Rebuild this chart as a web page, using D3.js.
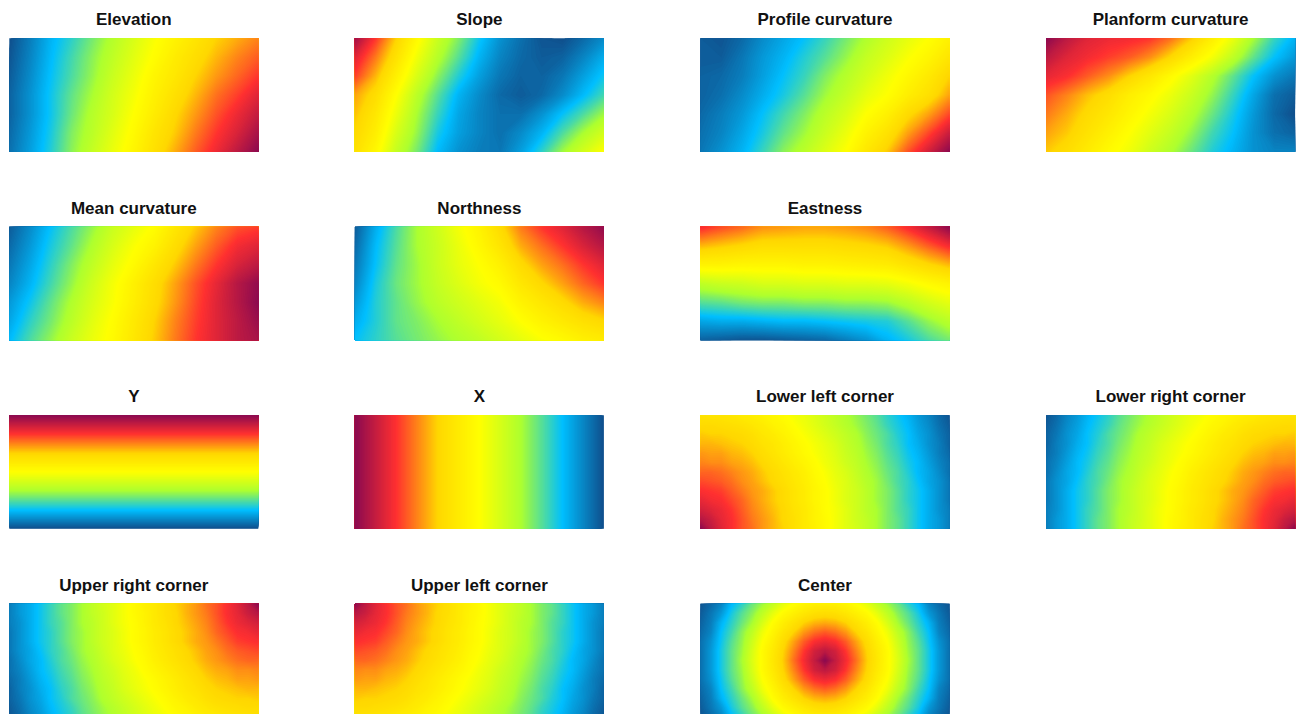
<!DOCTYPE html>
<html>
<head>
<meta charset="utf-8">
<script src="https://cdn.jsdelivr.net/npm/d3@7"></script>
<style>
  html, body { margin: 0; padding: 0; background: #ffffff; }
  svg { display: block; }
</style>
</head>
<body>
<svg id="chart" width="1300" height="714"></svg>
<script>
// ---- Gridded covariate surfaces (rows top→bottom, columns left→right, scaled 0–1) ----

const elevation = [
  [0.00,0.07,0.15,0.21,0.28,0.35,0.42,0.49,0.55,0.61,0.67,0.71,0.75],
  [0.01,0.08,0.16,0.23,0.30,0.37,0.44,0.51,0.58,0.64,0.70,0.75,0.79],
  [0.02,0.09,0.17,0.24,0.31,0.39,0.46,0.54,0.60,0.67,0.73,0.78,0.83],
  [0.03,0.10,0.18,0.26,0.33,0.41,0.48,0.56,0.63,0.70,0.77,0.82,0.88],
  [0.03,0.10,0.18,0.27,0.35,0.42,0.50,0.58,0.66,0.73,0.80,0.86,0.92],
  [0.04,0.11,0.19,0.29,0.36,0.44,0.52,0.61,0.68,0.76,0.83,0.89,0.96],
  [0.05,0.12,0.20,0.30,0.38,0.46,0.54,0.63,0.71,0.79,0.86,0.93,1.00]
];

const slope = [
  [0.97,0.83,0.67,0.52,0.39,0.29,0.18,0.10,0.05,0.01,0.00,0.04,0.09],
  [0.88,0.76,0.62,0.47,0.35,0.25,0.15,0.08,0.04,0.02,0.03,0.08,0.14],
  [0.82,0.70,0.56,0.42,0.30,0.20,0.12,0.06,0.03,0.03,0.06,0.12,0.18],
  [0.72,0.64,0.50,0.36,0.25,0.15,0.09,0.04,0.02,0.04,0.09,0.16,0.23],
  [0.69,0.60,0.46,0.33,0.22,0.13,0.08,0.05,0.05,0.10,0.17,0.24,0.32],
  [0.66,0.57,0.42,0.31,0.19,0.12,0.08,0.05,0.09,0.15,0.24,0.33,0.41],
  [0.63,0.53,0.38,0.28,0.16,0.10,0.07,0.06,0.12,0.21,0.32,0.41,0.50]
];

const profileCurvature = [
  [0.02,0.01,0.04,0.09,0.13,0.17,0.22,0.28,0.34,0.40,0.45,0.50,0.56],
  [0.02,0.02,0.06,0.11,0.15,0.20,0.25,0.31,0.38,0.43,0.49,0.54,0.61],
  [0.03,0.04,0.07,0.12,0.17,0.22,0.29,0.35,0.41,0.47,0.53,0.59,0.67],
  [0.03,0.05,0.09,0.14,0.19,0.25,0.32,0.38,0.45,0.50,0.57,0.63,0.72],
  [0.04,0.07,0.11,0.17,0.23,0.29,0.36,0.42,0.50,0.56,0.65,0.72,0.81],
  [0.05,0.08,0.13,0.19,0.26,0.32,0.39,0.46,0.55,0.62,0.72,0.81,0.91],
  [0.06,0.10,0.15,0.22,0.30,0.36,0.43,0.50,0.60,0.68,0.80,0.90,1.00]
];

const planformCurvature = [
  [1.00,0.93,0.88,0.86,0.85,0.83,0.77,0.68,0.57,0.46,0.33,0.22,0.15],
  [0.93,0.88,0.85,0.82,0.79,0.74,0.66,0.57,0.48,0.37,0.26,0.17,0.11],
  [0.87,0.84,0.79,0.74,0.67,0.60,0.52,0.44,0.35,0.26,0.17,0.10,0.06],
  [0.80,0.75,0.69,0.64,0.57,0.52,0.46,0.39,0.31,0.22,0.13,0.05,0.02],
  [0.76,0.71,0.65,0.60,0.54,0.48,0.42,0.35,0.27,0.19,0.11,0.04,0.00],
  [0.72,0.68,0.62,0.56,0.50,0.44,0.38,0.31,0.23,0.17,0.10,0.05,0.03],
  [0.68,0.64,0.58,0.52,0.47,0.40,0.34,0.27,0.20,0.15,0.10,0.08,0.08]
];

const meanCurvature = [
  [0.02,0.09,0.17,0.24,0.31,0.39,0.45,0.51,0.60,0.68,0.75,0.80,0.82],
  [0.04,0.11,0.19,0.26,0.34,0.42,0.49,0.55,0.64,0.72,0.79,0.85,0.88],
  [0.06,0.13,0.21,0.29,0.37,0.45,0.52,0.60,0.68,0.76,0.83,0.89,0.93],
  [0.08,0.15,0.23,0.31,0.40,0.48,0.56,0.64,0.72,0.80,0.87,0.94,0.99],
  [0.11,0.18,0.26,0.34,0.42,0.49,0.57,0.65,0.73,0.81,0.88,0.94,1.00],
  [0.13,0.21,0.28,0.36,0.44,0.51,0.59,0.67,0.75,0.82,0.88,0.93,0.98],
  [0.16,0.24,0.31,0.39,0.46,0.52,0.60,0.68,0.76,0.83,0.88,0.93,0.96]
];

const northness = [
  [0.02,0.14,0.24,0.33,0.40,0.48,0.55,0.65,0.76,0.83,0.88,0.94,0.99],
  [0.04,0.16,0.25,0.33,0.39,0.46,0.53,0.61,0.71,0.77,0.83,0.89,0.94],
  [0.06,0.17,0.26,0.32,0.39,0.45,0.50,0.56,0.65,0.72,0.77,0.83,0.88],
  [0.08,0.19,0.27,0.32,0.38,0.43,0.48,0.52,0.60,0.66,0.72,0.78,0.83],
  [0.11,0.20,0.26,0.31,0.36,0.40,0.44,0.48,0.55,0.60,0.65,0.71,0.75],
  [0.14,0.20,0.26,0.29,0.33,0.37,0.41,0.45,0.50,0.55,0.59,0.63,0.66],
  [0.17,0.21,0.25,0.28,0.31,0.34,0.37,0.41,0.45,0.49,0.52,0.56,0.58]
];

const eastness = [
  [0.85,0.81,0.78,0.74,0.73,0.72,0.72,0.73,0.75,0.79,0.85,0.92,1.00],
  [0.70,0.68,0.66,0.64,0.64,0.64,0.64,0.65,0.66,0.68,0.73,0.79,0.85],
  [0.55,0.55,0.54,0.54,0.54,0.55,0.55,0.56,0.57,0.58,0.62,0.66,0.70],
  [0.37,0.39,0.40,0.42,0.42,0.43,0.43,0.44,0.44,0.45,0.48,0.52,0.55],
  [0.25,0.26,0.28,0.29,0.29,0.30,0.30,0.31,0.31,0.32,0.36,0.41,0.45],
  [0.13,0.14,0.14,0.15,0.16,0.16,0.17,0.18,0.19,0.20,0.25,0.31,0.36],
  [0.03,0.02,0.01,0.01,0.02,0.03,0.04,0.07,0.10,0.15,0.19,0.24,0.28]
];

// Y varies only down the rows, X only across the columns
const yByRow = [1.00,0.83,0.67,0.50,0.33,0.17,0.00];
const xByColumn = [1.00,0.917,0.833,0.75,0.667,0.583,0.50,0.417,0.333,0.25,0.167,0.083,0.00];

const lowerLeftCorner = [
  [0.62,0.61,0.61,0.60,0.58,0.57,0.55,0.53,0.51,0.48,0.46,0.43,0.40,0.37,0.34,0.31,0.28,0.25,0.21,0.18,0.15,0.11,0.08,0.04,0.01],
  [0.65,0.65,0.64,0.63,0.62,0.60,0.58,0.55,0.53,0.50,0.47,0.44,0.41,0.38,0.35,0.32,0.29,0.26,0.22,0.19,0.16,0.12,0.09,0.05,0.02],
  [0.68,0.67,0.67,0.66,0.65,0.63,0.60,0.58,0.55,0.52,0.49,0.46,0.43,0.40,0.37,0.34,0.30,0.27,0.24,0.20,0.17,0.13,0.10,0.06,0.03],
  [0.70,0.70,0.69,0.68,0.67,0.65,0.62,0.60,0.57,0.54,0.51,0.48,0.45,0.42,0.38,0.35,0.31,0.28,0.24,0.21,0.17,0.14,0.10,0.07,0.03],
  [0.73,0.72,0.72,0.70,0.69,0.67,0.64,0.61,0.58,0.55,0.52,0.49,0.46,0.43,0.39,0.36,0.32,0.29,0.25,0.22,0.18,0.15,0.11,0.07,0.04],
  [0.75,0.74,0.74,0.72,0.71,0.69,0.66,0.63,0.60,0.57,0.54,0.51,0.47,0.44,0.40,0.37,0.33,0.30,0.26,0.23,0.19,0.16,0.12,0.08,0.05],
  [0.78,0.78,0.77,0.75,0.73,0.71,0.68,0.65,0.62,0.59,0.56,0.52,0.49,0.45,0.42,0.38,0.34,0.31,0.27,0.24,0.20,0.16,0.13,0.09,0.05],
  [0.81,0.80,0.79,0.77,0.74,0.72,0.69,0.66,0.63,0.60,0.57,0.53,0.50,0.46,0.43,0.39,0.35,0.32,0.28,0.24,0.21,0.17,0.13,0.10,0.06],
  [0.84,0.83,0.82,0.79,0.76,0.73,0.71,0.68,0.65,0.61,0.58,0.54,0.51,0.47,0.43,0.40,0.36,0.32,0.29,0.25,0.21,0.18,0.14,0.10,0.06],
  [0.87,0.85,0.84,0.81,0.78,0.74,0.71,0.68,0.65,0.61,0.58,0.54,0.51,0.47,0.43,0.40,0.36,0.32,0.29,0.25,0.21,0.18,0.14,0.10,0.06],
  [0.90,0.88,0.86,0.83,0.79,0.75,0.72,0.69,0.66,0.62,0.59,0.55,0.51,0.48,0.44,0.40,0.36,0.33,0.29,0.25,0.22,0.18,0.14,0.10,0.07],
  [0.94,0.91,0.87,0.84,0.80,0.76,0.73,0.70,0.66,0.63,0.59,0.55,0.52,0.48,0.44,0.40,0.37,0.33,0.29,0.26,0.22,0.18,0.14,0.11,0.07],
  [1.00,0.93,0.88,0.84,0.80,0.77,0.73,0.70,0.67,0.63,0.59,0.56,0.52,0.48,0.44,0.41,0.37,0.33,0.29,0.26,0.22,0.18,0.14,0.11,0.07]
];

const lowerRightCorner = [
  [0.01,0.04,0.08,0.11,0.15,0.18,0.21,0.25,0.28,0.31,0.34,0.37,0.40,0.43,0.46,0.48,0.51,0.53,0.55,0.57,0.58,0.60,0.61,0.61,0.62],
  [0.02,0.05,0.09,0.12,0.16,0.19,0.22,0.26,0.29,0.32,0.35,0.38,0.41,0.44,0.47,0.50,0.53,0.55,0.58,0.60,0.62,0.63,0.64,0.65,0.65],
  [0.03,0.06,0.10,0.13,0.17,0.20,0.24,0.27,0.30,0.34,0.37,0.40,0.43,0.46,0.49,0.52,0.55,0.58,0.60,0.63,0.65,0.66,0.67,0.67,0.68],
  [0.03,0.07,0.10,0.14,0.17,0.21,0.24,0.28,0.31,0.35,0.38,0.42,0.45,0.48,0.51,0.54,0.57,0.60,0.62,0.65,0.67,0.68,0.69,0.70,0.70],
  [0.04,0.07,0.11,0.15,0.18,0.22,0.25,0.29,0.32,0.36,0.39,0.43,0.46,0.49,0.52,0.55,0.58,0.61,0.64,0.67,0.69,0.70,0.72,0.72,0.73],
  [0.05,0.08,0.12,0.16,0.19,0.23,0.26,0.30,0.33,0.37,0.40,0.44,0.47,0.51,0.54,0.57,0.60,0.63,0.66,0.69,0.71,0.72,0.74,0.74,0.75],
  [0.05,0.09,0.13,0.16,0.20,0.24,0.27,0.31,0.34,0.38,0.42,0.45,0.49,0.52,0.56,0.59,0.62,0.65,0.68,0.71,0.73,0.75,0.77,0.78,0.78],
  [0.06,0.10,0.13,0.17,0.21,0.24,0.28,0.32,0.35,0.39,0.43,0.46,0.50,0.53,0.57,0.60,0.63,0.66,0.69,0.72,0.74,0.77,0.79,0.80,0.81],
  [0.06,0.10,0.14,0.18,0.21,0.25,0.29,0.32,0.36,0.40,0.43,0.47,0.51,0.54,0.58,0.61,0.65,0.68,0.71,0.73,0.76,0.79,0.82,0.83,0.84],
  [0.06,0.10,0.14,0.18,0.21,0.25,0.29,0.32,0.36,0.40,0.43,0.47,0.51,0.54,0.58,0.61,0.65,0.68,0.71,0.74,0.78,0.81,0.84,0.85,0.87],
  [0.07,0.10,0.14,0.18,0.22,0.25,0.29,0.33,0.36,0.40,0.44,0.48,0.51,0.55,0.59,0.62,0.66,0.69,0.72,0.75,0.79,0.83,0.86,0.88,0.90],
  [0.07,0.11,0.14,0.18,0.22,0.26,0.29,0.33,0.37,0.40,0.44,0.48,0.52,0.55,0.59,0.63,0.66,0.70,0.73,0.76,0.80,0.84,0.87,0.91,0.94],
  [0.07,0.11,0.14,0.18,0.22,0.26,0.29,0.33,0.37,0.41,0.44,0.48,0.52,0.56,0.59,0.63,0.67,0.70,0.73,0.77,0.80,0.84,0.88,0.93,1.00]
];

const upperRightCorner = [
  [0.07,0.11,0.14,0.18,0.22,0.26,0.29,0.33,0.37,0.41,0.44,0.48,0.52,0.56,0.59,0.63,0.67,0.70,0.73,0.77,0.80,0.84,0.88,0.93,1.00],
  [0.07,0.11,0.14,0.18,0.22,0.26,0.29,0.33,0.37,0.40,0.44,0.48,0.52,0.55,0.59,0.63,0.66,0.70,0.73,0.76,0.80,0.84,0.87,0.91,0.94],
  [0.07,0.10,0.14,0.18,0.22,0.25,0.29,0.33,0.36,0.40,0.44,0.48,0.51,0.55,0.59,0.62,0.66,0.69,0.72,0.75,0.79,0.83,0.86,0.88,0.90],
  [0.06,0.10,0.14,0.18,0.21,0.25,0.29,0.32,0.36,0.40,0.43,0.47,0.51,0.54,0.58,0.61,0.65,0.68,0.71,0.74,0.78,0.81,0.84,0.85,0.87],
  [0.06,0.10,0.14,0.18,0.21,0.25,0.29,0.32,0.36,0.40,0.43,0.47,0.51,0.54,0.58,0.61,0.65,0.68,0.71,0.73,0.76,0.79,0.82,0.83,0.84],
  [0.06,0.10,0.13,0.17,0.21,0.24,0.28,0.32,0.35,0.39,0.43,0.46,0.50,0.53,0.57,0.60,0.63,0.66,0.69,0.72,0.74,0.77,0.79,0.80,0.81],
  [0.05,0.09,0.13,0.16,0.20,0.24,0.27,0.31,0.34,0.38,0.42,0.45,0.49,0.52,0.56,0.59,0.62,0.65,0.68,0.71,0.73,0.75,0.77,0.78,0.78],
  [0.05,0.08,0.12,0.16,0.19,0.23,0.26,0.30,0.33,0.37,0.40,0.44,0.47,0.51,0.54,0.57,0.60,0.63,0.66,0.69,0.71,0.72,0.74,0.74,0.75],
  [0.04,0.07,0.11,0.15,0.18,0.22,0.25,0.29,0.32,0.36,0.39,0.43,0.46,0.49,0.52,0.55,0.58,0.61,0.64,0.67,0.69,0.70,0.72,0.72,0.73],
  [0.03,0.07,0.10,0.14,0.17,0.21,0.24,0.28,0.31,0.35,0.38,0.42,0.45,0.48,0.51,0.54,0.57,0.60,0.62,0.65,0.67,0.68,0.69,0.70,0.70],
  [0.03,0.06,0.10,0.13,0.17,0.20,0.24,0.27,0.30,0.34,0.37,0.40,0.43,0.46,0.49,0.52,0.55,0.58,0.60,0.63,0.65,0.66,0.67,0.67,0.68],
  [0.02,0.05,0.09,0.12,0.16,0.19,0.22,0.26,0.29,0.32,0.35,0.38,0.41,0.44,0.47,0.50,0.53,0.55,0.58,0.60,0.62,0.63,0.64,0.65,0.65],
  [0.01,0.04,0.08,0.11,0.15,0.18,0.21,0.25,0.28,0.31,0.34,0.37,0.40,0.43,0.46,0.48,0.51,0.53,0.55,0.57,0.58,0.60,0.61,0.61,0.62]
];

const upperLeftCorner = [
  [1.00,0.93,0.88,0.84,0.80,0.77,0.73,0.70,0.67,0.63,0.59,0.56,0.52,0.48,0.44,0.41,0.37,0.33,0.29,0.26,0.22,0.18,0.14,0.11,0.07],
  [0.94,0.91,0.87,0.84,0.80,0.76,0.73,0.70,0.66,0.63,0.59,0.55,0.52,0.48,0.44,0.40,0.37,0.33,0.29,0.26,0.22,0.18,0.14,0.11,0.07],
  [0.90,0.88,0.86,0.83,0.79,0.75,0.72,0.69,0.66,0.62,0.59,0.55,0.51,0.48,0.44,0.40,0.36,0.33,0.29,0.25,0.22,0.18,0.14,0.10,0.07],
  [0.87,0.85,0.84,0.81,0.78,0.74,0.71,0.68,0.65,0.61,0.58,0.54,0.51,0.47,0.43,0.40,0.36,0.32,0.29,0.25,0.21,0.18,0.14,0.10,0.06],
  [0.84,0.83,0.82,0.79,0.76,0.73,0.71,0.68,0.65,0.61,0.58,0.54,0.51,0.47,0.43,0.40,0.36,0.32,0.29,0.25,0.21,0.18,0.14,0.10,0.06],
  [0.81,0.80,0.79,0.77,0.74,0.72,0.69,0.66,0.63,0.60,0.57,0.53,0.50,0.46,0.43,0.39,0.35,0.32,0.28,0.24,0.21,0.17,0.13,0.10,0.06],
  [0.78,0.78,0.77,0.75,0.73,0.71,0.68,0.65,0.62,0.59,0.56,0.52,0.49,0.45,0.42,0.38,0.34,0.31,0.27,0.24,0.20,0.16,0.13,0.09,0.05],
  [0.75,0.74,0.74,0.72,0.71,0.69,0.66,0.63,0.60,0.57,0.54,0.51,0.47,0.44,0.40,0.37,0.33,0.30,0.26,0.23,0.19,0.16,0.12,0.08,0.05],
  [0.73,0.72,0.72,0.70,0.69,0.67,0.64,0.61,0.58,0.55,0.52,0.49,0.46,0.43,0.39,0.36,0.32,0.29,0.25,0.22,0.18,0.15,0.11,0.07,0.04],
  [0.70,0.70,0.69,0.68,0.67,0.65,0.62,0.60,0.57,0.54,0.51,0.48,0.45,0.42,0.38,0.35,0.31,0.28,0.24,0.21,0.17,0.14,0.10,0.07,0.03],
  [0.68,0.67,0.67,0.66,0.65,0.63,0.60,0.58,0.55,0.52,0.49,0.46,0.43,0.40,0.37,0.34,0.30,0.27,0.24,0.20,0.17,0.13,0.10,0.06,0.03],
  [0.65,0.65,0.64,0.63,0.62,0.60,0.58,0.55,0.53,0.50,0.47,0.44,0.41,0.38,0.35,0.32,0.29,0.26,0.22,0.19,0.16,0.12,0.09,0.05,0.02],
  [0.62,0.61,0.61,0.60,0.58,0.57,0.55,0.53,0.51,0.48,0.46,0.43,0.40,0.37,0.34,0.31,0.28,0.25,0.21,0.18,0.15,0.11,0.08,0.04,0.01]
];

const center = [
  [0.01,0.04,0.08,0.16,0.21,0.27,0.32,0.38,0.45,0.50,0.54,0.56,0.56,0.56,0.54,0.50,0.45,0.38,0.32,0.27,0.21,0.16,0.08,0.04,0.01],
  [0.02,0.06,0.11,0.19,0.25,0.30,0.37,0.45,0.52,0.56,0.60,0.63,0.64,0.63,0.60,0.56,0.52,0.45,0.37,0.30,0.25,0.19,0.11,0.06,0.02],
  [0.03,0.07,0.15,0.21,0.27,0.33,0.42,0.51,0.57,0.62,0.67,0.70,0.71,0.70,0.67,0.62,0.57,0.51,0.42,0.33,0.27,0.21,0.15,0.07,0.03],
  [0.04,0.08,0.17,0.23,0.30,0.37,0.47,0.54,0.61,0.67,0.73,0.77,0.79,0.77,0.73,0.67,0.61,0.54,0.47,0.37,0.30,0.23,0.17,0.08,0.04],
  [0.05,0.10,0.18,0.25,0.31,0.40,0.50,0.57,0.65,0.72,0.79,0.84,0.86,0.84,0.79,0.72,0.65,0.57,0.50,0.40,0.31,0.25,0.18,0.10,0.05],
  [0.05,0.11,0.19,0.26,0.32,0.42,0.52,0.59,0.67,0.75,0.83,0.90,0.93,0.90,0.83,0.75,0.67,0.59,0.52,0.42,0.32,0.26,0.19,0.11,0.05],
  [0.05,0.11,0.19,0.26,0.33,0.43,0.52,0.60,0.68,0.77,0.85,0.92,1.00,0.92,0.85,0.77,0.68,0.60,0.52,0.43,0.33,0.26,0.19,0.11,0.05],
  [0.05,0.11,0.19,0.26,0.32,0.42,0.52,0.59,0.67,0.75,0.83,0.90,0.93,0.90,0.83,0.75,0.67,0.59,0.52,0.42,0.32,0.26,0.19,0.11,0.05],
  [0.05,0.10,0.18,0.25,0.31,0.40,0.50,0.57,0.65,0.72,0.79,0.84,0.86,0.84,0.79,0.72,0.65,0.57,0.50,0.40,0.31,0.25,0.18,0.10,0.05],
  [0.04,0.08,0.17,0.23,0.30,0.37,0.47,0.54,0.61,0.67,0.73,0.77,0.79,0.77,0.73,0.67,0.61,0.54,0.47,0.37,0.30,0.23,0.17,0.08,0.04],
  [0.03,0.07,0.15,0.21,0.27,0.33,0.42,0.51,0.57,0.62,0.67,0.70,0.71,0.70,0.67,0.62,0.57,0.51,0.42,0.33,0.27,0.21,0.15,0.07,0.03],
  [0.02,0.06,0.11,0.19,0.25,0.30,0.37,0.45,0.52,0.56,0.60,0.63,0.64,0.63,0.60,0.56,0.52,0.45,0.37,0.30,0.25,0.19,0.11,0.06,0.02],
  [0.01,0.04,0.08,0.16,0.21,0.27,0.32,0.38,0.45,0.50,0.54,0.56,0.56,0.56,0.54,0.50,0.45,0.38,0.32,0.27,0.21,0.16,0.08,0.04,0.01]
];

const yGrid = yByRow.map(v => xByColumn.map(() => v));
const xGrid = yByRow.map(() => xByColumn.slice());

const panelTitles = [
  "Elevation", "Slope", "Profile curvature", "Planform curvature",
  "Mean curvature", "Northness", "Eastness", null,
  "Y", "X", "Lower left corner", "Lower right corner",
  "Upper right corner", "Upper left corner", "Center", null
];
const panelGrids = [
  elevation, slope, profileCurvature, planformCurvature,
  meanCurvature, northness, eastness, null,
  yGrid, xGrid, lowerLeftCorner, lowerRightCorner,
  upperRightCorner, upperLeftCorner, center, null
];

// Palette from low (deep blue) to high (deep magenta-red)
const paletteStops = [0, 1/6, 2/6, 3/6, 4/6, 5/6, 1];
const paletteColors = ["#104E8B", "#00BFFF", "#ADFF2F", "#FFFF00", "#FFD700", "#FF3030", "#8B0A50"];

// ---- Layout ----
const firstLeft = 9.3, colStep = 345.6;
const firstTop = 38.3, rowStep = 188.5;
const panelW = 249, panelH = 113.4;

const color = d3.scaleLinear().domain(paletteStops).range(paletteColors).clamp(true);
const step = 0.005;
const levels = d3.range(0, 1, step);

const svg = d3.select("#chart");
const defs = svg.append("defs");

panelGrids.forEach((grid, k) => {
  if (!grid) return;
  const row = Math.floor(k / 4), col = k % 4;
  const x0 = firstLeft + col * colStep;
  const y0 = firstTop + row * rowStep;
  const m = grid.length, n = grid[0].length;

  // sample centres (i + 0.5) land on the panel edges
  const xs = d3.scaleLinear().domain([0.5, n - 0.5]).range([x0, x0 + panelW]);
  const ys = d3.scaleLinear().domain([0.5, m - 0.5]).range([y0, y0 + panelH]);
  const path = d3.geoPath(d3.geoTransform({
    point(x, y) { this.stream.point(xs(x), ys(y)); }
  }));

  const clipId = "clip-" + k;
  defs.append("clipPath").attr("id", clipId)
    .append("rect")
    .attr("x", x0).attr("y", y0)
    .attr("width", panelW).attr("height", panelH);

  // nested filled isobands, drawn low → high so each covers the previous
  const bands = d3.contours().size([n, m]).thresholds(levels)(grid.flat());

  const g = svg.append("g").attr("clip-path", `url(#${clipId})`);
  g.selectAll("path")
    .data(bands)
    .join("path")
    .attr("d", path)
    .attr("fill", d => color(d.value + step / 2))
    .attr("stroke", "none");

  svg.append("text")
    .attr("x", x0 + panelW / 2)
    .attr("y", y0 - 13)
    .attr("text-anchor", "middle")
    .attr("font-family", "'Liberation Sans', Arial, Helvetica, sans-serif")
    .attr("font-weight", "bold")
    .attr("font-size", 17)
    .attr("fill", "#111")
    .text(panelTitles[k]);
});
</script>
</body>
</html>
